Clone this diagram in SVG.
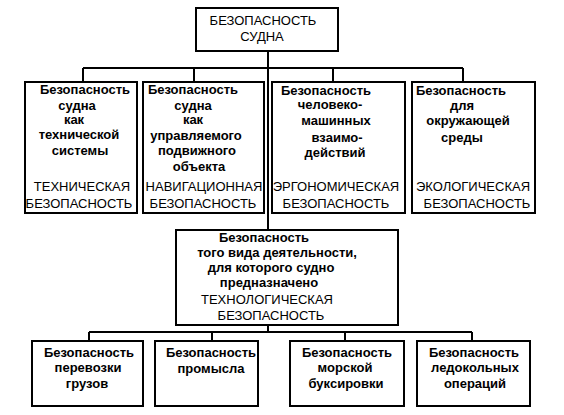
<svg xmlns="http://www.w3.org/2000/svg" width="564" height="415" viewBox="0 0 564 415">
<style>
.box{fill:#fff;stroke:#000;stroke-width:2}
.c{fill:none;stroke:#000;stroke-width:2}
text{font-family:"Liberation Sans",Arial,sans-serif;fill:#000;text-anchor:middle}
.l{font-size:13px;font-weight:bold}
.u{font-size:13px}
</style>
<rect width="564" height="415" fill="#fff"/>
<g id="connectors">
<path class="c" d="M268,51V230M83,68H463M83,68V82M194,68V82M333,68V82M463,68V82"/>
<path class="c" d="M268,325V332M89,332H472M89,332V341M212,332V341M345,332V341M472,332V341"/>
</g>
<g id="root">
<rect class="box" x="196" y="8" width="142" height="43"/>
<text class="u" x="263" y="25">БЕЗОПАСНОСТЬ</text>
<text class="u" x="262" y="41">СУДНА</text>
</g>
<g id="tech">
<rect class="box" x="25" y="82" width="112" height="131"/>
<text class="l" x="85" y="94">Безопасность</text>
<text class="l" x="77" y="110">судна</text>
<text class="l" x="74" y="124">как</text>
<text class="l" x="79" y="139">технической</text>
<text class="l" x="80" y="155">системы</text>
<text class="u" x="82" y="191">ТЕХНИЧЕСКАЯ</text>
<text class="u" x="79" y="208">БЕЗОПАСНОСТЬ</text>
</g>
<g id="nav">
<rect class="box" x="143" y="82" width="121" height="131"/>
<text class="l" x="193" y="94">Безопасность</text>
<text class="l" x="193" y="110">судна</text>
<text class="l" x="193" y="124">как</text>
<text class="l" x="196" y="140">управляемого</text>
<text class="l" x="197" y="155">подвижного</text>
<text class="l" x="199" y="171">объекта</text>
<text class="u" x="204" y="191">НАВИГАЦИОННАЯ</text>
<text class="u" x="203" y="208">БЕЗОПАСНОСТЬ</text>
</g>
<g id="ergo">
<rect class="box" x="272" y="82" width="133" height="131"/>
<text class="l" x="326" y="95">Безопасность</text>
<text class="l" x="330" y="109">человеко-</text>
<text class="l" x="336" y="125">машинных</text>
<text class="l" x="337" y="142">взаимо-</text>
<text class="l" x="335" y="157">действий</text>
<text class="u" x="336" y="191">ЭРГОНОМИЧЕСКАЯ</text>
<text class="u" x="336" y="208">БЕЗОПАСНОСТЬ</text>
</g>
<g id="eco">
<rect class="box" x="412" y="82" width="123" height="131"/>
<text class="l" x="461" y="95">Безопасность</text>
<text class="l" x="462" y="110">для</text>
<text class="l" x="468" y="125">окружающей</text>
<text class="l" x="462" y="142">среды</text>
<text class="u" x="473" y="191">ЭКОЛОГИЧЕСКАЯ</text>
<text class="u" x="477" y="208">БЕЗОПАСНОСТЬ</text>
</g>
<g id="techno">
<rect class="box" x="176" y="230" width="222" height="95"/>
<text class="l" x="264" y="242">Безопасность</text>
<text class="l" x="277" y="257">того вида деятельности,</text>
<text class="l" x="271" y="272">для которого судно</text>
<text class="l" x="269" y="287">предназначено</text>
<text class="u" x="267" y="304">ТЕХНОЛОГИЧЕСКАЯ</text>
<text class="u" x="271" y="320">БЕЗОПАСНОСТЬ</text>
</g>
<g id="cargo">
<rect class="box" x="32" y="341" width="111" height="65"/>
<text class="l" x="89" y="357">Безопасность</text>
<text class="l" x="88" y="372">перевозки</text>
<text class="l" x="87" y="388">грузов</text>
</g>
<g id="fishing">
<rect class="box" x="155" y="341" width="103" height="65"/>
<text class="l" x="211" y="357">Безопасность</text>
<text class="l" x="211" y="373">промысла</text>
</g>
<g id="towing">
<rect class="box" x="290" y="341" width="114" height="65"/>
<text class="l" x="347" y="357">Безопасность</text>
<text class="l" x="345" y="372">морской</text>
<text class="l" x="346" y="388">буксировки</text>
</g>
<g id="icebreaking">
<rect class="box" x="417" y="341" width="113" height="65"/>
<text class="l" x="474" y="357">Безопасность</text>
<text class="l" x="475" y="372">ледокольных</text>
<text class="l" x="475" y="388">операций</text>
</g>
</svg>
